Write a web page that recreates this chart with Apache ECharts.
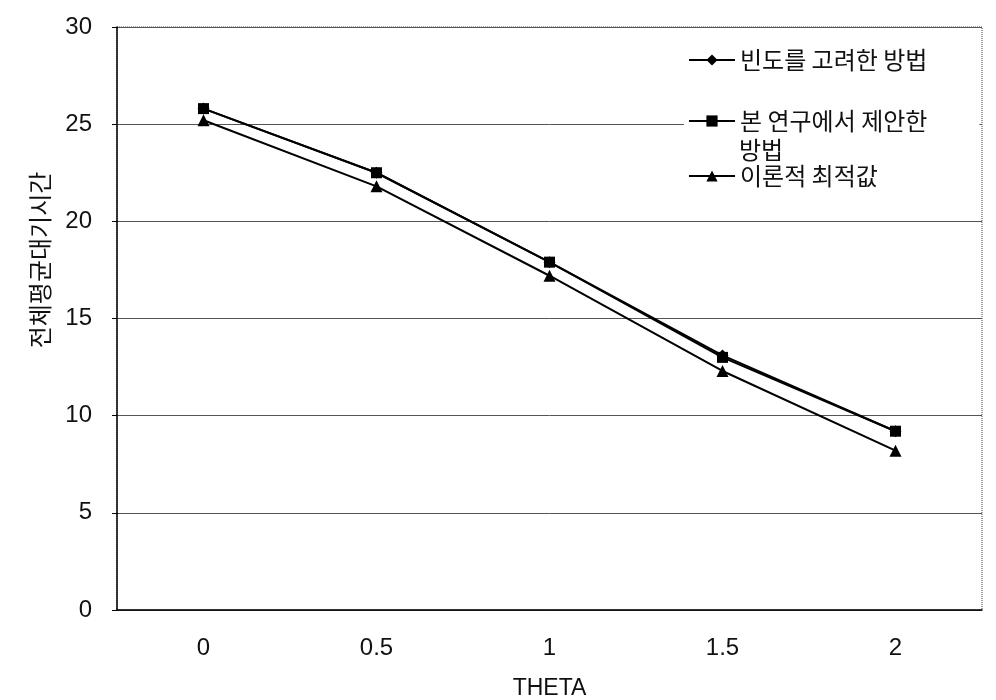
<!DOCTYPE html>
<html>
<head>
<meta charset="utf-8">
<script src="https://cdn.jsdelivr.net/npm/echarts@6/dist/echarts.min.js"></script>
<style>
  html, body { margin: 0; padding: 0; background: #fff; }
  #chart { width: 996px; height: 700px; }
</style>
</head>
<body>
<div id="chart"></div>
<script>
// 데이터
const thetaLabels = ['0', '0.5', '1', '1.5', '2'];
const freqMethod = [25.8, 22.5, 17.9, 13.1, 9.2];      // 빈도를 고려한 방법
const proposedMethod = [25.8, 22.5, 17.9, 13.0, 9.2];  // 본 연구에서 제안한 방법
const optimalValue = [25.2, 21.8, 17.2, 12.3, 8.2];    // 이론적 최적값
const seriesNames = ['빈도를 고려한 방법', '본 연구에서 제안한 방법', '이론적 최적값'];

const chartDom = document.getElementById('chart');
const chart = echarts.init(chartDom);

const legendText = {
  fontFamily: 'Noto Sans CJK KR',
  fontSize: 24,
  color: '#111',
};
const legendBase = {
  orient: 'vertical',
  left: 684,
  itemWidth: 46,
  itemHeight: 14,
  itemGap: 0,
  padding: [2, 6, 2, 4],
  backgroundColor: '#fff',
  textStyle: legendText,
};

const lineStyle = { color: '#000', width: 2 };

const option = {
  animation: false,
  grid: {
    left: 117,
    right: 14,
    top: 27,
    bottom: 90,
    outerBoundsMode: 'none',
    show: true,
    borderColor: '#444',
    borderWidth: 1,
    borderType: 'dotted',
  },
  legend: [
    { ...legendBase, top: 46, data: [seriesNames[0]] },
    {
      ...legendBase, top: 107, data: [seriesNames[1]],
      padding: [2, 52, 2, 4],
      formatter: () => '본 연구에서 제안한',
    },
    { ...legendBase, top: 162, data: [seriesNames[2]] },
  ],
  xAxis: {
    type: 'category',
    data: thetaLabels,
    boundaryGap: true,
    name: 'THETA',
    nameLocation: 'middle',
    nameGap: 67,
    nameTextStyle: { fontFamily: 'Liberation Sans', fontSize: 23, color: '#111' },
    axisLine: { lineStyle: { color: '#000', width: 1.5 } },
    axisTick: { inside: true, length: 8, lineStyle: { color: '#000' } },
    axisLabel: { fontFamily: 'Liberation Sans', fontSize: 24, color: '#111', margin: 26 },
    splitLine: { show: false },
  },
  yAxis: {
    type: 'value',
    min: 0,
    max: 30,
    interval: 5,
    axisLine: { show: true, lineStyle: { color: '#000', width: 1.5 } },
    axisTick: { show: true, length: 5, lineStyle: { color: '#000' } },
    axisLabel: { fontFamily: 'Liberation Sans', fontSize: 24, color: '#111', margin: 25 },
    splitLine: { lineStyle: { color: '#555', width: 1 } },
  },
  graphic: [
    {
      type: 'text',
      x: 40,
      y: 260,
      rotation: Math.PI / 2,
      style: {
        text: '전체평균대기시간',
        font: '24px "Noto Sans CJK KR"',
        fill: '#111',
        align: 'center',
        verticalAlign: 'middle',
      },
    },
    {
      type: 'text',
      left: 739,
      top: 138,
      z: 200,
      style: {
        text: '방법',
        font: '24px "Noto Sans CJK KR"',
        fill: '#111',
      },
    },
  ],
  series: [
    {
      name: seriesNames[0],
      type: 'line',
      data: freqMethod,
      symbol: 'diamond',
      symbolSize: 12,
      itemStyle: { color: '#000' },
      lineStyle,
    },
    {
      name: seriesNames[1],
      type: 'line',
      data: proposedMethod,
      symbol: 'rect',
      symbolSize: 11,
      itemStyle: { color: '#000' },
      lineStyle,
    },
    {
      name: seriesNames[2],
      type: 'line',
      data: optimalValue,
      symbol: 'triangle',
      symbolSize: 12,
      itemStyle: { color: '#000' },
      lineStyle,
    },
  ],
};

chart.setOption(option);
window.addEventListener('resize', () => {
  chart.resize();
});
</script>
</body>
</html>
